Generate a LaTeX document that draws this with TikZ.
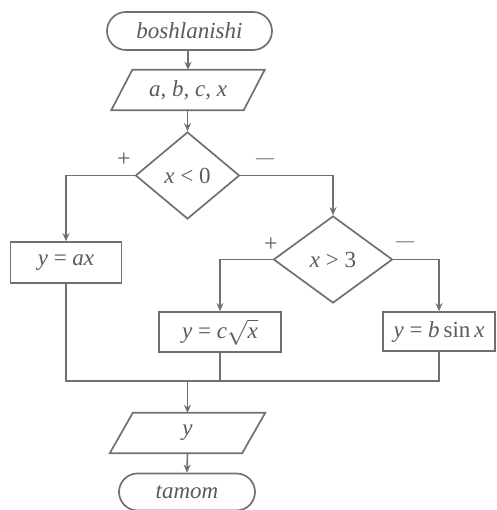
\documentclass[tikz,border=0pt]{standalone}
\usepackage{fontspec}
\setmainfont{Liberation Serif}
\usetikzlibrary{shapes.geometric,shapes.misc,arrows.meta}
\definecolor{ln}{HTML}{707070}
\definecolor{tx}{HTML}{5A5A5A}
\begin{document}
\begin{tikzpicture}[x=1pt,y=-1pt,
  every node/.style={text=tx,font=\fontsize{23}{26}\selectfont},
  term/.style={rounded rectangle,draw=ln,line width=1.7pt,inner sep=0pt},
  io/.style={inner sep=0pt,minimum width=132pt,minimum height=40pt},
  dec/.style={diamond,draw=ln,line width=1.7pt,inner sep=0pt},
  proc/.style={rectangle,draw=ln,line width=1.7pt,inner sep=0pt},
  ar/.style={draw=ln,line width=1.6pt,-{Stealth[length=8pt,width=7pt]}},
  li/.style={draw=ln,line width=1.6pt},
  plus/.style={font=\fontsize{24}{26}\selectfont},
  minus/.style={font=\fontsize{18}{20}\selectfont}]
\useasboundingbox (0,0) rectangle (496,510);
\node[term,minimum width=165pt,minimum height=38pt] (start) at (189.5,31) {\textit{boshlanishi}};
\node[io] (in) at (188,90) {\textit{a}, \textit{b}, \textit{c}, \textit{x}};
\draw[ln,line width=1.7pt] ([xshift=-10.5pt]in.south west) -- ([xshift=-10.5pt]in.south east) -- ([xshift=10.5pt]in.north east) -- ([xshift=10.5pt]in.north west) -- cycle;
\node[dec,minimum width=104pt,minimum height=87pt] (d1) at (187.5,175.5) {\textit{x} < 0};
\node[dec,minimum width=119pt,minimum height=87pt] (d2) at (333,259.5) {\textit{x} > 3};
\node[proc,minimum width=111pt,minimum height=41pt] (b1) at (66,262.5) {\textit{y} = \textit{ax}};
\node[proc,minimum width=122pt,minimum height=40pt] (b2) at (220,332) {\textit{y} = \textit{c}$\sqrt{\textit{x}}$};
\node[proc,minimum width=112pt,minimum height=39pt] (b3) at (439,331.5) {\textit{y} = \textit{b}\,sin\,\textit{x}};
\node[io] (out) at (187.5,433) {\textit{y}};
\draw[ln,line width=1.7pt] ([xshift=-11.5pt]out.south west) -- ([xshift=-11.5pt]out.south east) -- ([xshift=11.5pt]out.north east) -- ([xshift=11.5pt]out.north west) -- cycle;
\node[term,minimum width=136pt,minimum height=37pt] (end) at (187,492) {\textit{tamom}};
\coordinate (m) at (187.5,381);
% labels
\node[plus] (p1) at (124,160) {+};
\node[minus] (n1) at (265,161) {---};
\node[plus] (p2) at (271,245) {+};
\node[minus] (n2) at (405,244) {---};
% connectors
\draw[ar] (in.north |- start.south) -- (in.north);
\draw[ar] (d1.north |- in.south) -- (d1.north);
\draw[ar] (d1.west) -| (b1.north);
\draw[ar] (d1.east) -| (d2.north);
\draw[ar] (d2.west) -| (b2.north);
\draw[ar] (d2.east) -| (b3.north);
\draw[li] (b1.south) |- (b3.south |- m) -- (b3.south);
\draw[li] (b2.south) -- (b2.south |- m);
\draw[ar] (m) -- (out.north);
\draw[ar] (out.south) -- (end.north);
\end{tikzpicture}
\end{document}
